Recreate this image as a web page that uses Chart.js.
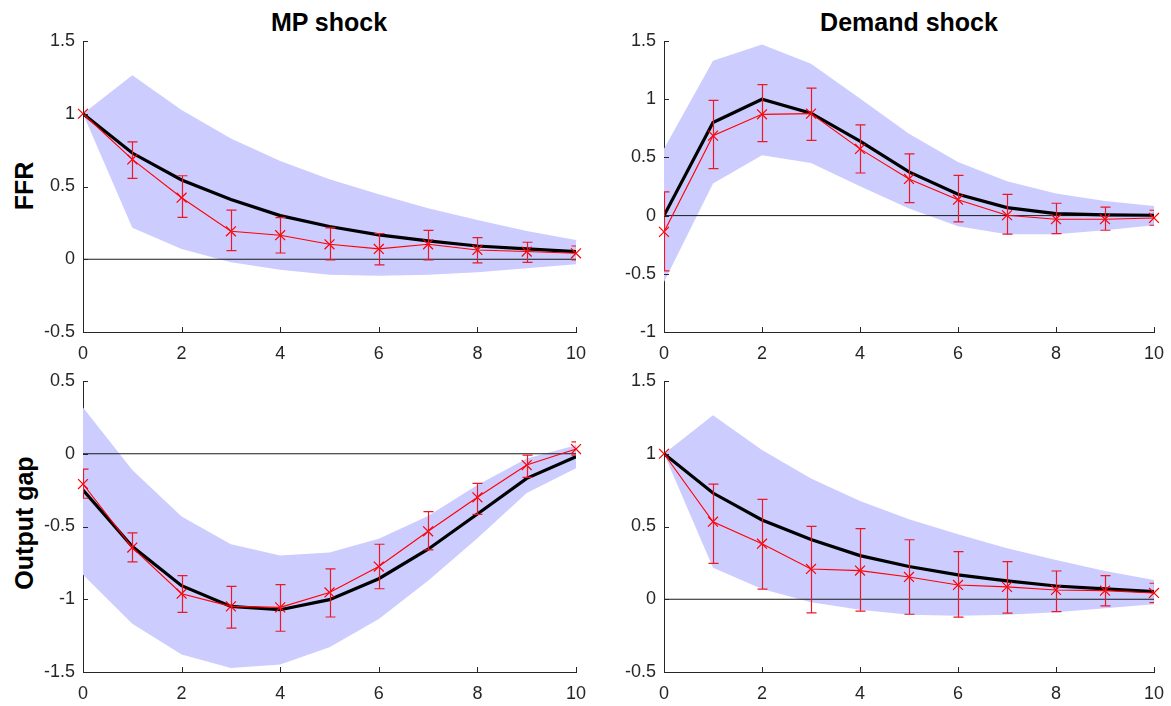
<!DOCTYPE html>
<html><head><meta charset="utf-8">
<script src="https://cdn.jsdelivr.net/npm/chart.js@4.4.1/dist/chart.umd.min.js"></script>
<style>
html,body{margin:0;padding:0;background:#fff;width:1171px;height:706px;overflow:hidden;font-family:"Liberation Sans",Arial,sans-serif;}
canvas{position:absolute;}
.title{position:absolute;font-weight:bold;font-size:25px;color:#000;white-space:nowrap;transform:translate(-50%,-50%);line-height:30px;}
.rowlab{position:absolute;font-weight:bold;font-size:25px;color:#000;white-space:nowrap;transform:translate(-50%,-50%) rotate(-90deg);line-height:30px;}
</style></head><body>
<div class="title" style="left:329px;top:22px">MP shock</div>
<div class="title" style="left:909px;top:22px">Demand shock</div>
<div class="rowlab" style="left:24px;top:186px">FFR</div>
<div class="rowlab" style="left:24px;top:523px">Output gap</div>
<canvas id="p1" width="590" height="338" style="left:0px;top:29px;width:590px;height:338px"></canvas>
<canvas id="p2" width="581" height="338" style="left:590px;top:29px;width:581px;height:338px"></canvas>
<canvas id="p3" width="590" height="338" style="left:0px;top:369px;width:590px;height:338px"></canvas>
<canvas id="p4" width="581" height="338" style="left:590px;top:369px;width:581px;height:338px"></canvas>
<script>
// ---------- data ----------
const horizon = [0,1,2,3,4,5,6,7,8,9,10];

// MP shock -> FFR
const mpFfrMean   = [1.0, 0.73, 0.545, 0.41, 0.30, 0.225, 0.167, 0.126, 0.091, 0.071, 0.053];
const mpFfrBandHi = [1.0, 1.265, 1.025, 0.83, 0.675, 0.55, 0.446, 0.35, 0.27, 0.195, 0.133];
const mpFfrBandLo = [1.0, 0.217, 0.071, -0.02, -0.073, -0.107, -0.114, -0.107, -0.089, -0.062, -0.034];
const mpFfrEst    = [1.0, 0.686, 0.423, 0.192, 0.165, 0.103, 0.071, 0.103, 0.064, 0.053, 0.041];
const mpFfrErrHi  = [null, 0.807, 0.574, 0.338, 0.286, 0.215, 0.176, 0.199, 0.149, 0.117, 0.091];
const mpFfrErrLo  = [null, 0.556, 0.288, 0.059, 0.043, -0.005, -0.039, -0.005, -0.025, -0.021, -0.005];

// Demand shock -> FFR
const dmFfrMean   = [0.0, 0.80, 1.0, 0.88, 0.64, 0.375, 0.183, 0.069, 0.017, 0.006, 0.003];
const dmFfrBandHi = [0.575, 1.33, 1.47, 1.305, 1.005, 0.704, 0.461, 0.295, 0.189, 0.126, 0.083];
const dmFfrBandLo = [-0.57, 0.275, 0.518, 0.452, 0.252, 0.06, -0.092, -0.16, -0.16, -0.126, -0.083];
const dmFfrEst    = [-0.14, 0.687, 0.87, 0.876, 0.573, 0.315, 0.137, 0.003, -0.031, -0.031, -0.02];
const dmFfrErrHi  = [0.203, 0.99, 1.125, 1.096, 0.779, 0.53, 0.346, 0.183, 0.106, 0.072, 0.046];
const dmFfrErrLo  = [-0.475, 0.404, 0.636, 0.647, 0.366, 0.112, -0.054, -0.16, -0.155, -0.126, -0.083];

// MP shock -> Output gap
const mpGapMean   = [-0.25, -0.638, -0.907, -1.049, -1.072, -1.003, -0.859, -0.656, -0.414, -0.169, -0.021];
const mpGapBandHi = [0.318, -0.112, -0.432, -0.622, -0.699, -0.679, -0.585, -0.427, -0.215, -0.032, 0.059];
const mpGapBandLo = [-0.832, -1.168, -1.38, -1.472, -1.449, -1.33, -1.136, -0.873, -0.58, -0.27, -0.1];
const mpGapEst    = [-0.208, -0.645, -0.962, -1.049, -1.056, -0.953, -0.775, -0.533, -0.299, -0.078, 0.032];
const mpGapErrHi  = [-0.105, -0.544, -0.837, -0.912, -0.9, -0.791, -0.622, -0.398, -0.203, -0.009, 0.082];
const mpGapErrLo  = [-0.306, -0.743, -1.09, -1.198, -1.22, -1.122, -0.928, -0.661, -0.416, -0.162, -0.009];

// Demand shock -> Output gap
const dmGapMean   = [1.0, 0.73, 0.545, 0.41, 0.30, 0.225, 0.167, 0.126, 0.091, 0.071, 0.053];
const dmGapBandHi = [1.0, 1.265, 1.025, 0.83, 0.675, 0.55, 0.446, 0.35, 0.27, 0.195, 0.133];
const dmGapBandLo = [1.0, 0.217, 0.071, -0.02, -0.073, -0.107, -0.114, -0.107, -0.089, -0.062, -0.034];
const dmGapEst    = [1.0, 0.533, 0.382, 0.208, 0.197, 0.153, 0.098, 0.085, 0.064, 0.059, 0.043];
const dmGapErrHi  = [null, 0.791, 0.686, 0.501, 0.485, 0.409, 0.327, 0.258, 0.194, 0.162, 0.11];
const dmGapErrLo  = [null, 0.247, 0.069, -0.094, -0.082, -0.103, -0.123, -0.096, -0.085, -0.046, -0.023];

// axis ranges / ticks
const xMin = 0, xMax = 10, xStep = 2;
const ffrMpRange  = [-0.5, 1.5], ffrDmRange = [-1, 1.5];
const gapMpRange  = [-1.5, 0.5], gapDmRange = [-0.5, 1.5];
const yStep = 0.5;

// ---------- helpers ----------
const AXIS = '#262626';
const FONT = {family:'"Liberation Sans", Arial, sans-serif', size:18};
function pts(ys){ return horizon.map((h,i)=>({x:h, y:ys[i]})); }

const errorBars = {
  id:'errorBars',
  afterDatasetsDraw(chart, args, o){
    if(!o || !o.lo) return;
    const {ctx, chartArea:a, scales:{x, y}} = chart;
    ctx.save();
    ctx.beginPath(); ctx.rect(a.left, a.top-30, a.right-a.left, a.bottom-a.top+60); ctx.clip();
    ctx.strokeStyle = o.color; ctx.lineWidth = 1.2;
    ctx.beginPath();
    o.lo.forEach((lo,i)=>{
      const hi = o.hi[i]; if(lo==null || hi==null) return;
      const px = Math.round(x.getPixelForValue(horizon[i])) + 0.5;
      const pl = y.getPixelForValue(lo), ph = y.getPixelForValue(hi);
      ctx.moveTo(px, pl); ctx.lineTo(px, ph);
      ctx.moveTo(px-5, pl); ctx.lineTo(px+5, pl);
      ctx.moveTo(px-5, ph); ctx.lineTo(px+5, ph);
    });
    ctx.stroke();
    ctx.restore();
  }
};
const inTicks = {
  id:'inTicks',
  afterDraw(chart){
    const {ctx, chartArea:a, scales:{x, y}} = chart;
    ctx.save(); ctx.strokeStyle = AXIS; ctx.lineWidth = 1; ctx.beginPath();
    x.ticks.forEach(t=>{ const p = Math.round(x.getPixelForValue(t.value))+0.5; ctx.moveTo(p, a.bottom); ctx.lineTo(p, a.bottom-5); });
    y.ticks.forEach(t=>{ const p = Math.round(y.getPixelForValue(t.value))+0.5; ctx.moveTo(a.left, p); ctx.lineTo(a.left+5, p); });
    ctx.stroke(); ctx.restore();
  }
};

function makePanel(id, yAxisWidth, padRight, range, mean, bandHi, bandLo, est, errHi, errLo){
  new Chart(document.getElementById(id), {
    type:'line',
    data:{ datasets:[
      {data:pts(est), borderColor:'#ff0000', borderWidth:1.1, pointStyle:'crossRot', pointRadius:7,
       pointBorderColor:'#ff0000', pointBorderWidth:1.2, pointBackgroundColor:'#ff0000', fill:false, clip:false},
      {data:pts(mean), borderColor:'#000', borderWidth:3.2, pointRadius:0, fill:false},
      {data:[{x:xMin,y:0},{x:xMax,y:0}], borderColor:'#1a1a1a', borderWidth:1, pointRadius:0, fill:false},
      {data:pts(bandHi), borderWidth:0, borderColor:'rgba(0,0,0,0)', pointRadius:0, fill:'+1', backgroundColor:'rgb(204,204,255)'},
      {data:pts(bandLo), borderWidth:0, borderColor:'rgba(0,0,0,0)', pointRadius:0, fill:false}
    ]},
    options:{
      responsive:false, animation:false, devicePixelRatio:1,
      layout:{padding:{left:0, right:padRight, top:12, bottom:0}},
      plugins:{legend:{display:false}, tooltip:{enabled:false},
               errorBars:{lo:errLo, hi:errHi, color:'rgb(235,25,40)'}},
      elements:{line:{tension:0}},
      scales:{
        x:{type:'linear', min:xMin, max:xMax,
           ticks:{stepSize:xStep, font:FONT, color:AXIS, padding:11, maxRotation:0, autoSkip:false},
           grid:{display:false, drawTicks:false},
           border:{display:true, color:AXIS, width:1},
           afterFit(s){ s.height = 35; s.paddingLeft = 0; s.paddingRight = 0; }},
        y:{type:'linear', min:range[0], max:range[1],
           ticks:{stepSize:yStep, font:FONT, color:AXIS, padding:8, autoSkip:false, callback:v=>String(v)},
           grid:{display:false, drawTicks:false},
           border:{display:true, color:AXIS, width:1},
           afterFit(s){ s.width = yAxisWidth; s.paddingTop = 0; s.paddingBottom = 0; }}
      }
    },
    plugins:[errorBars, inTicks]
  });
}

makePanel('p1', 83, 14, ffrMpRange, mpFfrMean, mpFfrBandHi, mpFfrBandLo, mpFfrEst, mpFfrErrHi, mpFfrErrLo);
makePanel('p2', 74, 17, ffrDmRange, dmFfrMean, dmFfrBandHi, dmFfrBandLo, dmFfrEst, dmFfrErrHi, dmFfrErrLo);
makePanel('p3', 83, 14, gapMpRange, mpGapMean, mpGapBandHi, mpGapBandLo, mpGapEst, mpGapErrHi, mpGapErrLo);
makePanel('p4', 74, 17, gapDmRange, dmGapMean, dmGapBandHi, dmGapBandLo, dmGapEst, dmGapErrHi, dmGapErrLo);
</script>
</body></html>
